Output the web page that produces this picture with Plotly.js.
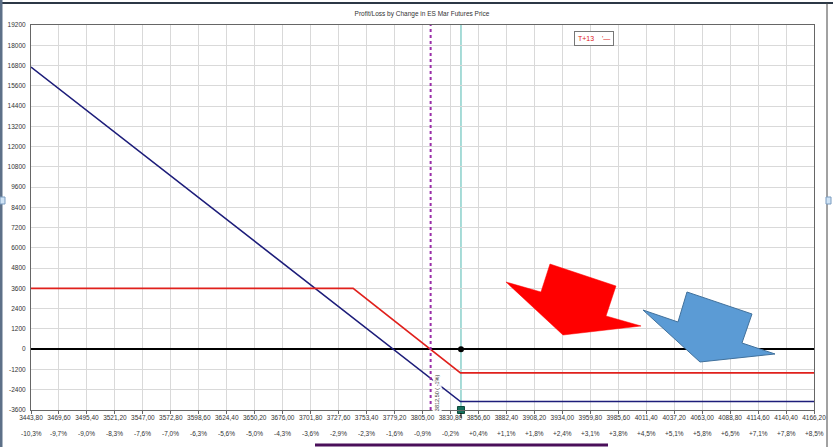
<!DOCTYPE html>
<html>
<head>
<meta charset="utf-8">
<script src="https://cdn.plot.ly/plotly-3.0.1.min.js"></script>
<style>
  html, body { margin: 0; padding: 0; background: #ffffff; }
  #chart { width: 833px; height: 447px; }
</style>
</head>
<body>
<div id="chart"></div>
<script>
// ---- data ----
const tickPrices = [3443.80, 3469.60, 3495.40, 3521.20, 3547.00, 3572.80, 3598.60, 3624.40, 3650.20, 3676.00,
                    3701.80, 3727.60, 3753.40, 3779.20, 3805.00, 3830.80, 3856.60, 3882.40, 3908.20, 3934.00,
                    3959.80, 3985.60, 4011.40, 4037.20, 4063.00, 4088.80, 4114.60, 4140.40, 4166.20];
const tickPriceLabels = ["3443,80","3469,60","3495,40","3521,20","3547,00","3572,80","3598,60","3624,40","3650,20","3676,00",
                         "3701,80","3727,60","3753,40","3779,20","3805,00","3830,80","3856,60","3882,40","3908,20","3934,00",
                         "3959,80","3985,60","4011,40","4037,20","4063,00","4088,80","4114,60","4140,40","4166,20"];
const tickPctLabels = ["-10,3%","-9,7%","-9,0%","-8,3%","-7,6%","-7,0%","-6,3%","-5,6%","-5,0%","-4,3%",
                       "-3,6%","-2,9%","-2,3%","-1,6%","-0,9%","-0,2%","+0,4%","+1,1%","+1,8%","+2,4%",
                       "+3,1%","+3,8%","+4,5%","+5,1%","+5,8%","+6,5%","+7,1%","+7,8%","+8,5%"];
const yTickVals = [-3600, -2400, -1200, 0, 1200, 2400, 3600, 4800, 6000, 7200, 8400, 9600,
                   10800, 12000, 13200, 14400, 15600, 16800, 18000, 19200];

// T+13 curve (red)
const t13Price = [3443.8, 3741, 3840, 4166.2];
const t13PL    = [3600, 3600, -1400, -1400];
// Expiration curve (navy)
const expPrice = [3443.8, 3840, 4166.2];
const expPL    = [16710, -3100, -3100];

const markerPrice = 3812.5;       // purple dotted line
const markerLabel = "3812,50 ( -1%)";
const currentPrice = 3840.5;      // teal line
const yMin = -3600, yMax = 19200;

// ---- pixel helpers for decorations (plot area 31..814 x 25..410) ----
const L = 31, R = 814, T = 25, B = 410;
const px = x => (x - L) / (R - L);
const py = y => (B - y) / (B - T);
function polyPath(pts) {
  return pts.map((p, i) => (i ? 'L' : 'M') + px(p[0]).toFixed(4) + ',' + py(p[1]).toFixed(4)).join(' ') + ' Z';
}
const redArrow  = [[506,282],[541,292],[550,264],[616,286],[606,316],[641,326],[563,335]];
const blueArrow = [[643,310],[678,322],[687,292],[752,314],[742,343],[775,354],[700,362]];

const FONT = "Liberation Sans, Arial, sans-serif";

const traces = [
  { x: expPrice, y: expPL, type: 'scatter', mode: 'lines',
    line: { color: '#1d1d7a', width: 1.6 }, hoverinfo: 'skip', showlegend: false },
  { x: t13Price, y: t13PL, type: 'scatter', mode: 'lines',
    line: { color: '#e0201c', width: 1.6 }, hoverinfo: 'skip', showlegend: false },
  { x: [currentPrice], y: [0], type: 'scatter', mode: 'markers',
    marker: { color: '#000', size: 6, symbol: 'circle', line: { width: 0 } }, hoverinfo: 'skip', showlegend: false },
  { x: [currentPrice], y: [yMin], type: 'scatter', mode: 'markers', cliponaxis: false,
    marker: { color: '#16705c', size: 7, symbol: 'square', line: { color: '#0c4a3a', width: 1 } },
    hoverinfo: 'skip', showlegend: false }
];

const annotations = tickPrices.map((v, i) => ({
  x: v, xref: 'x', y: 0, yref: 'paper', yanchor: 'middle', yshift: -23,
  text: tickPctLabels[i], showarrow: false,
  font: { family: FONT, size: 6.5, color: '#333' }
}));
annotations.push({
  x: 5 / 833, xref: 'container', y: 1 - 20 / 447, yref: 'container', xanchor: 'center', yanchor: 'middle',
  text: '€', showarrow: false, font: { family: FONT, size: 7, color: '#333' }
});
annotations.push({
  x: px(594), xref: 'paper', y: py(38), yref: 'paper', xanchor: 'center', yanchor: 'middle',
  text: 'T+13&nbsp;&nbsp;&nbsp;&nbsp;\'—', showarrow: false,
  font: { family: FONT, size: 7, color: '#e0201c' },
  bordercolor: '#777', borderwidth: 1, borderpad: 3, bgcolor: '#fff'
});
annotations.push({
  x: markerPrice, xref: 'x', xshift: 6, y: py(372), yref: 'paper', xanchor: 'center', yanchor: 'top',
  text: markerLabel, textangle: -90, showarrow: false,
  font: { family: FONT, size: 5.5, color: '#333' }, bgcolor: 'rgba(255,255,255,0.9)'
});

const shapes = [
  { type: 'line', xref: 'x', x0: currentPrice, x1: currentPrice, yref: 'paper', y0: 0, y1: 1,
    line: { color: '#6cc4bd', width: 1.2 }, layer: 'below' },
  { type: 'line', xref: 'x', x0: markerPrice, x1: markerPrice, yref: 'paper', y0: 0, y1: 1,
    line: { color: '#9a2ea8', width: 2, dash: 'dot' }, layer: 'above' },
  { type: 'path', xref: 'paper', yref: 'paper', path: polyPath(redArrow),
    fillcolor: '#ff0000', line: { color: '#ff0000', width: 0.5 }, layer: 'above' },
  { type: 'path', xref: 'paper', yref: 'paper', path: polyPath(blueArrow),
    fillcolor: '#5b9bd5', line: { color: '#41719c', width: 1 }, layer: 'above' },
  // window chrome
  { type: 'line', xref: 'paper', yref: 'paper', x0: px(0), x1: px(833), y0: py(3), y1: py(3),
    line: { color: '#2c3846', width: 2 } },
  { type: 'line', xref: 'paper', yref: 'paper', x0: px(1), x1: px(1), y0: py(0), y1: py(447),
    line: { color: '#5d7088', width: 3 } },
  { type: 'line', xref: 'paper', yref: 'paper', x0: px(827), x1: px(827), y0: py(3), y1: py(447),
    line: { color: '#444', width: 1 } },
  { type: 'rect', xref: 'paper', yref: 'paper', x0: px(0), x1: px(5), y0: py(197), y1: py(204),
    fillcolor: '#cfe3f5', line: { color: '#7a9cc0', width: 1 } },
  { type: 'rect', xref: 'paper', yref: 'paper', x0: px(826), x1: px(831), y0: py(197), y1: py(204),
    fillcolor: '#cfe3f5', line: { color: '#7a9cc0', width: 1 } },
  { type: 'line', xref: 'paper', yref: 'paper', x0: px(315), x1: px(608), y0: py(445), y1: py(445),
    line: { color: '#4a0f5a', width: 3 } },
  { type: 'line', xref: 'x', x0: currentPrice, x1: currentPrice, yref: 'paper', y0: py(413), y1: py(418),
    line: { color: '#000', width: 1 } }
];

const layout = {
  width: 833, height: 447,
  margin: { l: L, r: 833 - R, t: T, b: 447 - B, pad: 0 },
  paper_bgcolor: '#ffffff', plot_bgcolor: '#ffffff',
  showlegend: false,
  title: { text: 'Profit/Loss by Change in ES Mar Futures Price',
           font: { family: FONT, size: 6.5, color: '#333' },
           x: 422 / 833, xref: 'container', xanchor: 'center',
           y: 1 - 14 / 447, yref: 'container', yanchor: 'middle' },
  xaxis: {
    range: [tickPrices[0], tickPrices[tickPrices.length - 1]],
    tickmode: 'array', tickvals: tickPrices, ticktext: tickPriceLabels,
    tickfont: { family: FONT, size: 6.5, color: '#333' }, tickangle: 0,
    ticks: 'outside', ticklen: 3, tickcolor: '#666', ticklabelstandoff: -2,
    showgrid: true, gridcolor: '#d9d9d9', gridwidth: 1,
    showline: true, linecolor: '#666', linewidth: 1, mirror: true,
    zeroline: false, fixedrange: true
  },
  yaxis: {
    range: [yMin, yMax],
    tickmode: 'array', tickvals: yTickVals, ticktext: yTickVals.map(v => String(v)),
    tickfont: { family: FONT, size: 6.5, color: '#333' },
    ticks: '', ticklabelstandoff: 3,
    showgrid: true, gridcolor: '#d9d9d9', gridwidth: 1,
    showline: true, linecolor: '#666', linewidth: 1, mirror: true,
    zeroline: true, zerolinecolor: '#000', zerolinewidth: 2, fixedrange: true
  },
  shapes: shapes,
  annotations: annotations
};

Plotly.newPlot('chart', traces, layout, { displayModeBar: false, staticPlot: true });
</script>
</body>
</html>
